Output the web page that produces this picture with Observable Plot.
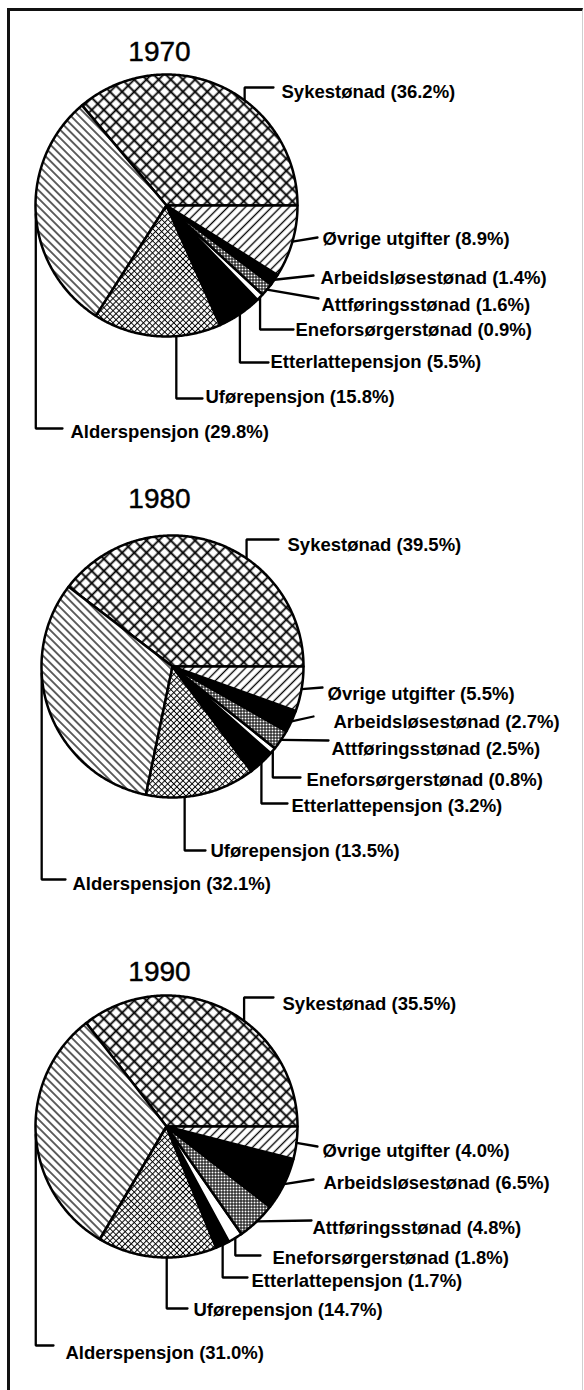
<!DOCTYPE html>
<html><head><meta charset="utf-8">
<script src="https://cdn.jsdelivr.net/npm/d3@7"></script>
<script src="https://cdn.jsdelivr.net/npm/@observablehq/plot@0.6"></script>
<style>
body{margin:0;background:#fff;}
#wrap{position:relative;width:584px;height:1390px;overflow:hidden;background:#fff;}
#frame{position:absolute;left:7px;top:8px;width:572px;height:1420px;border-left:3px solid #111;border-top:3px solid #111;border-right:1px solid #cfcfcf;}
.blk{position:absolute;left:0;}
#defs{position:absolute;left:0;top:0;width:0;height:0;}
</style></head><body>
<svg id="defs" width="0" height="0">
  <defs>
    <pattern id="p-crossL" patternUnits="userSpaceOnUse" width="8.6" height="8.6" patternTransform="rotate(45)">
      <rect width="8.6" height="8.6" fill="#fff"/>
      <path d="M0 4.3H8.6M4.3 0V8.6" stroke="#000" stroke-width="1.8"/>
    </pattern>
    <pattern id="p-crossS" patternUnits="userSpaceOnUse" width="4.3" height="4.3" patternTransform="rotate(45)">
      <rect width="4.3" height="4.3" fill="#fff"/>
      <path d="M0 2.15H4.3M2.15 0V4.3" stroke="#000" stroke-width="1.05"/>
    </pattern>
    <pattern id="p-back" patternUnits="userSpaceOnUse" width="5.8" height="5.8" patternTransform="rotate(45)">
      <rect width="5.8" height="5.8" fill="#fff"/>
      <path d="M0 2.9H5.8" stroke="#000" stroke-width="1.25"/>
    </pattern>
    <pattern id="p-fwd" patternUnits="userSpaceOnUse" width="6.2" height="6.2" patternTransform="rotate(-45)">
      <rect width="6.2" height="6.2" fill="#fff"/>
      <path d="M0 3.1H6.2" stroke="#000" stroke-width="1.35"/>
    </pattern>
    <pattern id="p-dots" patternUnits="userSpaceOnUse" width="3" height="3">
      <rect width="3" height="3" fill="#fff"/>
      <path d="M0 0.5H3M0.5 0V3" stroke="#000" stroke-width="1"/>
    </pattern>
  </defs>
</svg>
<div id="wrap"><div id="frame"></div></div>
<script>
// ---- data ----
const categories = ["Sykestønad","Alderspensjon","Uførepensjon","Etterlattepensjon","Eneforsørgerstønad","Attføringsstønad","Arbeidsløsestønad","Øvrige utgifter"];
const years = ["1970","1980","1990"];
const values1970 = [36.2, 29.8, 15.8, 5.5, 0.9, 1.6, 1.4, 8.9];
const values1980 = [39.5, 32.1, 13.5, 3.2, 0.8, 2.5, 2.7, 5.5];
const values1990 = [35.5, 31.0, 14.7, 1.7, 1.8, 4.8, 6.5, 4.0];
const valuesByYear = [values1970, values1980, values1990];

// ---- styles ----
const fills = ["url(#p-crossL)","url(#p-back)","url(#p-crossS)","#000","#fff","url(#p-dots)","#000","url(#p-fwd)"];
const FONT = "'Liberation Sans', Arial, Helvetica, sans-serif";
const R = 131;                 // pie radius (px)
const W = 584, BH = 461, CY = 205;

// ---- layout (pixel offsets relative to each pie centre) ----
// per category: [leader type, attach fraction within slice, leader end x, leader y, text x, text y]
const layout = [
  { top: 0, cx: 166, title: [-7, -145], labels: [
    ["v",0.41,107,-118,115,-113],
    ["v",0.5,-104,223,-96,227],
    ["v",0.65,36,193,39,192],
    ["v",0.5,102,157,104,157],
    ["v",0.5,127,124,129,125],
    ["h",0.5,152,93,155,100],
    ["h",0.5,147,70,154,73],
    ["h",0.5,151,32,156,34]]},
  { top: 461, cx: 172, title: [-13, -159], labels: [
    ["v",0.39,106,-127,115,-121],
    ["v",0.35,-107,213,-100,218],
    ["v",0.35,33,184,38,185],
    ["v",0.5,115,137,119,140],
    ["v",0.5,128,111,134,114],
    ["h",0.5,156,74,159,83],
    ["h",0.5,141,50,161,56],
    ["h",0.5,150,21,155,28]]},
  { top: 921, cx: 166, title: [-7, -146], labels: [
    ["v",0.42,107,-129,116,-122],
    ["v",0.5,-113,219,-101,227],
    ["v",0.58,21,182,27,184],
    ["v",0.5,81,151,85,155],
    ["v",0.5,94,129,106,132],
    ["h",0.5,145,94,146,102],
    ["h",0.5,147,53,157,57],
    ["h",0.5,151,20,156,25]]}
];

const wrap = document.getElementById("wrap");

years.forEach((year, yi) => {
  const vals = valuesByYear[yi];
  const L = layout[yi];
  const total = d3.sum(vals);
  const cum = d3.cumsum(vals);
  const slices = vals.map((v, i) => ({
    cat: categories[i],
    value: v,
    a0: 2 * Math.PI * (cum[i] - v) / total,
    a1: 2 * Math.PI * cum[i] / total,
    fill: fills[i]
  }));
  // wedge polygons (counter-clockwise from 3 o'clock)
  const wedgePts = [];
  for (const s of slices) {
    wedgePts.push({cat: s.cat, fill: s.fill, x: 0, y: 0});
    const n = Math.max(2, Math.ceil((s.a1 - s.a0) / 0.01));
    for (let k = 0; k <= n; k++) {
      const a = s.a0 + (s.a1 - s.a0) * k / n;
      wedgePts.push({cat: s.cat, fill: s.fill, x: R * Math.cos(a), y: -R * Math.sin(a)});
    }
  }
  // leaders and labels
  const leaderPts = [];
  const labels = [];
  slices.forEach((s, i) => {
    const [type, t, lx, ly, tx, ty] = L.labels[i];
    const a = s.a0 + (s.a1 - s.a0) * t;
    const ax = R * Math.cos(a), ay = -R * Math.sin(a);
    leaderPts.push({cat: s.cat, x: ax, y: ay});
    if (type === "v") leaderPts.push({cat: s.cat, x: ax, y: ly});
    leaderPts.push({cat: s.cat, x: lx, y: ly});
    labels.push({x: tx, y: ty, text: `${s.cat} (${s.value.toFixed(1)}%)`});
  });

  const plot = Plot.plot({
    width: W, height: BH,
    margin: 0,
    style: {background: "transparent", overflow: "visible"},
    x: {domain: [-L.cx, W - L.cx], range: [0, W], axis: null},
    y: {domain: [-CY, BH - CY], range: [0, BH], axis: null},
    color: {type: "identity"},
    marks: [
      Plot.line(wedgePts, {x: "x", y: "y", z: "cat", fill: "fill", stroke: "#000", strokeWidth: 2.5, strokeLinejoin: "round", curve: "linear-closed"}),
      Plot.line(leaderPts, {x: "x", y: "y", z: "cat", stroke: "#000", strokeWidth: 2.3, strokeLinejoin: "miter"}),
      Plot.text(labels, {x: "x", y: "y", text: "text", textAnchor: "start", lineAnchor: "middle", fontSize: 18.5, fontWeight: "bold", fontFamily: FONT, fill: "#000"}),
      Plot.text([year], {x: () => L.title[0], y: () => L.title[1], text: d => d, textAnchor: "middle", lineAnchor: "bottom", fontSize: 28, fontFamily: FONT, fill: "#000", stroke: "#000", strokeWidth: 0.45})
    ]
  });
  const div = document.createElement("div");
  div.className = "blk";
  div.style.top = L.top + "px";
  div.appendChild(plot);
  wrap.appendChild(div);
});
</script>
</body></html>
